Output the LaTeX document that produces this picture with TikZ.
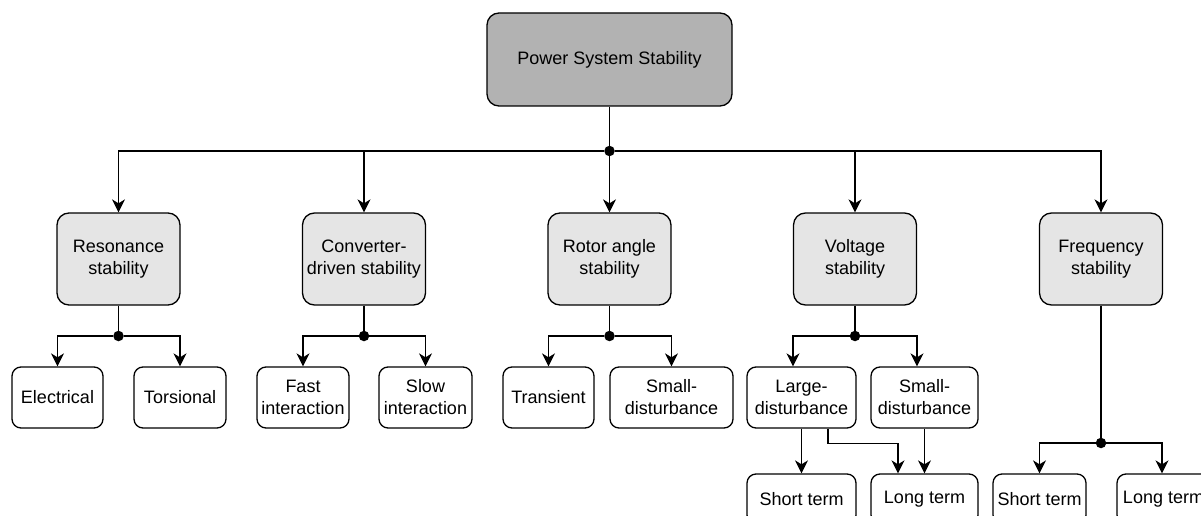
\documentclass[tikz,border=0pt]{standalone}
\usepackage{fontspec}
\setmainfont{Liberation Sans}
\usetikzlibrary{shapes}
\usetikzlibrary{arrows.meta}

\begin{document}
\begin{tikzpicture}[x=1pt,y=-1pt]
			\tikzstyle{box}=[draw,line width=1.3pt,rounded corners=12pt,align=center,inner sep=0pt,font=\fontsize{18}{22}\selectfont]
			\tikzstyle{root}=[box,fill=black!30,minimum width=245pt,minimum height=93pt]
			\tikzstyle{group}=[box,fill=black!10,minimum width=123pt,minimum height=92pt]
			\tikzstyle{leaf}=[box,fill=white,rounded corners=9pt,minimum height=61pt]
			\tikzstyle{link}=[line width=1.3pt,-{Stealth[length=13pt,width=13pt,inset=4pt]}]
			\tikzstyle{wire}=[line width=1.3pt]
			\tikzstyle{dot}=[circle,fill=black,inner sep=0pt,minimum size=10.5pt]
			
			\useasboundingbox (0,0) rectangle (1201,516);
			
			% top
			\node[root] (pss) at (609.5,59.5) {Power System Stability};
			\node[dot] (j0) at (609.5,151) {};
			
			% second level
			\node[group] (res) at (118.5,259) {Resonance\\stability};
			\node[group] (conv) at (364,259) {Converter-\\driven stability};
			\node[group] (rot) at (609.5,259) {Rotor angle\\stability};
			\node[group] (volt) at (855,259) {Voltage\\stability};
			\node[group] (freq) at (1101,259) {Frequency\\stability};
			
			\draw[wire] (pss) -- (j0);
			\foreach \g in {res,conv,rot,volt,freq}
				\draw[link] (j0) -| (\g);
			
			% third level
			\node[leaf,minimum width=91pt] (el) at (57.5,397.5) {Electrical};
			\node[leaf,minimum width=92pt] (tor) at (180,397.5) {Torsional};
			\node[leaf,minimum width=92pt] (fast) at (303,397.5) {Fast\\interaction};
			\node[leaf,minimum width=93pt] (slow) at (425.5,397.5) {Slow\\interaction};
			\node[leaf,minimum width=91pt] (trans) at (548.5,397.5) {Transient};
			\node[leaf,minimum width=123pt] (rsd) at (671.5,397.5) {Small-\\disturbance};
			\node[leaf,minimum width=109pt] (vld) at (801.5,397.5) {Large-\\disturbance};
			\node[leaf,minimum width=107pt] (vsd) at (924.5,397.5) {Small-\\disturbance};
			
			\node[dot] (jres) at (118.5,336) {};
			\node[dot] (jconv) at (364,336) {};
			\node[dot] (jrot) at (609.5,336) {};
			\node[dot] (jvolt) at (855,336) {};
			
			\draw[wire] (res) -- (jres);
			\draw[link] (jres) -| (el);
			\draw[link] (jres) -| (tor);
			\draw[wire] (conv) -- (jconv);
			\draw[link] (jconv) -| (fast);
			\draw[link] (jconv) -| (slow);
			\draw[wire] (rot) -- (jrot);
			\draw[link] (jrot) -| (trans);
			\draw[link] (jrot) -| (rsd);
			\draw[wire] (volt) -- (jvolt);
			\draw[link] (jvolt) -| ([xshift=-8.5pt]vld.north);
			\draw[link] (jvolt) -| ([xshift=-7.5pt]vsd.north);
			
			% bottom
			\node[leaf,minimum width=109pt,minimum height=50pt] (vst) at (801.5,499) {Short term};
			\node[leaf,minimum width=107pt,minimum height=50pt] (vlt) at (924.5,499) {Long term};
			\node[leaf,minimum width=93pt,minimum height=50pt] (fst) at (1039.5,499) {Short term};
			\node[leaf,minimum width=93pt,minimum height=50pt] (flt) at (1163.5,499) {Long term};
			
			\draw[link] (vld) -- (vst);
			\draw[link] ([xshift=26.5pt]vld.south) -- ++(0,15) -| ([xshift=-26.5pt]vlt.north);
			\draw[link] (vsd) -- (vlt);
			
			\node[dot] (jfreq) at (1101,443) {};
			\draw[wire] (freq) -- (jfreq);
			\draw[link] (jfreq) -| (fst);
			\draw[link] (jfreq) -| ([xshift=-1.5pt]flt.north);
\end{tikzpicture}
\end{document}
